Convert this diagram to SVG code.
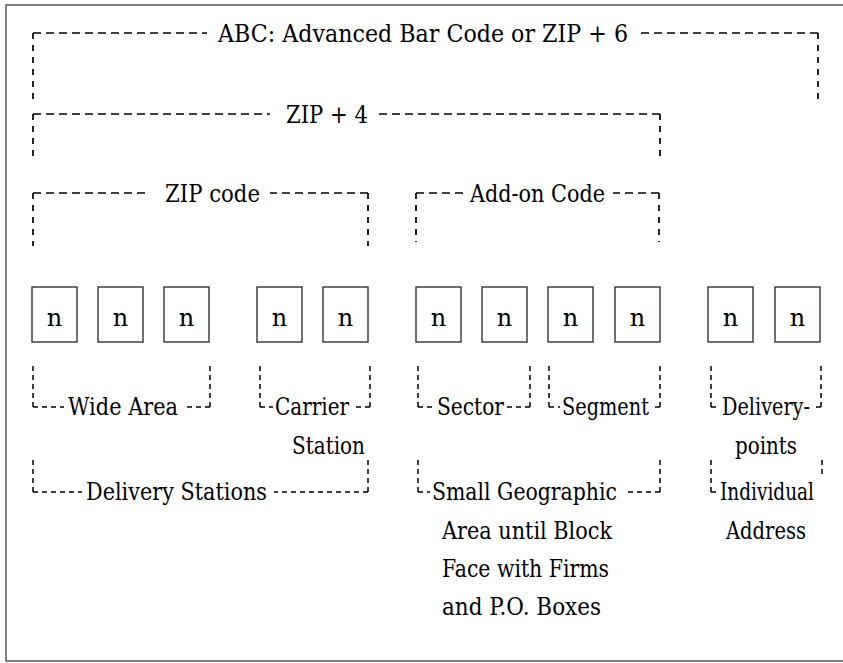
<svg xmlns="http://www.w3.org/2000/svg" width="843" height="663" viewBox="0 0 843 663">
<style>
text{font-family:"DejaVu Serif","Liberation Serif",serif;font-size:24px;fill:#000}
.n{font-size:24px;text-anchor:middle}
.frame{fill:none;stroke:#555;stroke-width:1.5}
.box{fill:#fff;stroke:#333;stroke-width:1.4}
.d{fill:none;stroke:#000;stroke-width:1.7;stroke-dasharray:8 5}
.v{fill:none;stroke:#000;stroke-width:1.7;stroke-dasharray:6 6}
.s{fill:none;stroke:#000;stroke-width:1.5;stroke-dasharray:5 4}
</style>
<rect width="843" height="663" fill="#fff"/>
<path class="frame" d="M843,5 H6 V661 H843"/>

<g id="connectors">
  <!-- ABC bracket -->
  <path class="d" d="M33,33 H207"/>
  <path class="d" d="M818,33 H638"/>
  <path class="v" d="M33,33 V100"/>
  <path class="v" d="M818,33 V104"/>
  <!-- ZIP+4 -->
  <path class="d" d="M33,114 H270"/>
  <path class="d" d="M660,114 H378"/>
  <path class="v" d="M33,114 V158"/>
  <path class="v" d="M660,114 V158"/>
  <!-- ZIP code -->
  <path class="d" d="M33,193 H150"/>
  <path class="d" d="M368,193 H270"/>
  <path class="v" d="M33,193 V246"/>
  <path class="v" d="M368,193 V246"/>
  <!-- Add-on Code -->
  <path class="d" d="M416,193 H468"/>
  <path class="d" d="M659,193 H613"/>
  <path class="v" d="M416,193 V242"/>
  <path class="v" d="M659,193 V242"/>
  <!-- row 1 lower brackets -->
  <path class="s" d="M33,407 V362"/><path class="s" d="M33,407 H64"/>
  <path class="s" d="M210,407 V362"/><path class="s" d="M210,407 H184"/>
  <path class="s" d="M260,407 V362"/><path class="s" d="M260,407 H273"/>
  <path class="s" d="M370,407 V362"/><path class="s" d="M370,407 H353"/>
  <path class="s" d="M418,407 V362"/><path class="s" d="M418,407 H435"/>
  <path class="s" d="M530,407 V362"/><path class="s" d="M530,407 H507"/>
  <path class="s" d="M549,407 V362"/><path class="s" d="M549,407 H560"/>
  <path class="s" d="M660,407 V362"/><path class="s" d="M660,407 H651"/>
  <path class="s" d="M711,407 V362"/><path class="s" d="M711,407 H719"/>
  <path class="s" d="M821,407 V362"/><path class="s" d="M821,407 H812"/>
  <!-- row 2 lower brackets -->
  <path class="s" d="M33,492 V458"/><path class="s" d="M33,492 H82"/>
  <path class="s" d="M368,492 V458"/><path class="s" d="M368,492 H274"/>
  <path class="s" d="M418,492 V458"/><path class="s" d="M418,492 H430"/>
  <path class="s" d="M660,492 V458"/><path class="s" d="M660,492 H625"/>
  <path class="s" d="M711,492 V458"/><path class="s" d="M711,492 H718"/>
  <path class="s" d="M822,474 V458"/>
</g>

<g id="labels-top">
  <text x="218" y="42" textLength="410" lengthAdjust="spacingAndGlyphs">ABC: Advanced Bar Code or ZIP + 6</text>
  <text x="286" y="123" textLength="82" lengthAdjust="spacingAndGlyphs">ZIP + 4</text>
  <text x="165" y="202" textLength="95" lengthAdjust="spacingAndGlyphs">ZIP code</text>
  <text x="470" y="202" textLength="135" lengthAdjust="spacingAndGlyphs">Add-on Code</text>
</g>

<g id="d1"><rect class="box" x="32" y="287" width="45" height="55"/><text class="n" x="54.5" y="326">n</text></g>
<g id="d2"><rect class="box" x="98" y="287" width="45" height="55"/><text class="n" x="120.5" y="326">n</text></g>
<g id="d3"><rect class="box" x="164" y="287" width="45" height="55"/><text class="n" x="186.5" y="326">n</text></g>
<g id="d4"><rect class="box" x="257" y="287" width="45" height="55"/><text class="n" x="279.5" y="326">n</text></g>
<g id="d5"><rect class="box" x="323" y="287" width="45" height="55"/><text class="n" x="345.5" y="326">n</text></g>
<g id="d6"><rect class="box" x="416" y="287" width="45" height="55"/><text class="n" x="438.5" y="326">n</text></g>
<g id="d7"><rect class="box" x="482" y="287" width="45" height="55"/><text class="n" x="504.5" y="326">n</text></g>
<g id="d8"><rect class="box" x="548" y="287" width="45" height="55"/><text class="n" x="570.5" y="326">n</text></g>
<g id="d9"><rect class="box" x="615" y="287" width="45" height="55"/><text class="n" x="637.5" y="326">n</text></g>
<g id="d10"><rect class="box" x="708" y="287" width="45" height="55"/><text class="n" x="730.5" y="326">n</text></g>
<g id="d11"><rect class="box" x="775" y="287" width="45" height="55"/><text class="n" x="797.5" y="326">n</text></g>

<g id="labels-bottom">
  <text x="68" y="415" textLength="110" lengthAdjust="spacingAndGlyphs">Wide Area</text>
  <text x="275" y="415" textLength="74" lengthAdjust="spacingAndGlyphs">Carrier</text>
  <text x="292" y="454" textLength="73" lengthAdjust="spacingAndGlyphs">Station</text>
  <text x="437" y="415" textLength="67" lengthAdjust="spacingAndGlyphs">Sector</text>
  <text x="562" y="415" textLength="87" lengthAdjust="spacingAndGlyphs">Segment</text>
  <text x="722" y="415" textLength="88" lengthAdjust="spacingAndGlyphs">Delivery-</text>
  <text x="735" y="454" textLength="62" lengthAdjust="spacingAndGlyphs">points</text>
  <text x="86" y="500" textLength="181" lengthAdjust="spacingAndGlyphs">Delivery Stations</text>
  <text x="432" y="500" textLength="185" lengthAdjust="spacingAndGlyphs">Small Geographic</text>
  <text x="442" y="539" textLength="170" lengthAdjust="spacingAndGlyphs">Area until Block</text>
  <text x="442" y="577" textLength="167" lengthAdjust="spacingAndGlyphs">Face with Firms</text>
  <text x="442" y="615" textLength="159" lengthAdjust="spacingAndGlyphs">and P.O. Boxes</text>
  <text x="720" y="500" font-size="21" textLength="94" lengthAdjust="spacingAndGlyphs">Individual</text>
  <text x="726" y="539" textLength="80" lengthAdjust="spacingAndGlyphs">Address</text>
</g>
</svg>
